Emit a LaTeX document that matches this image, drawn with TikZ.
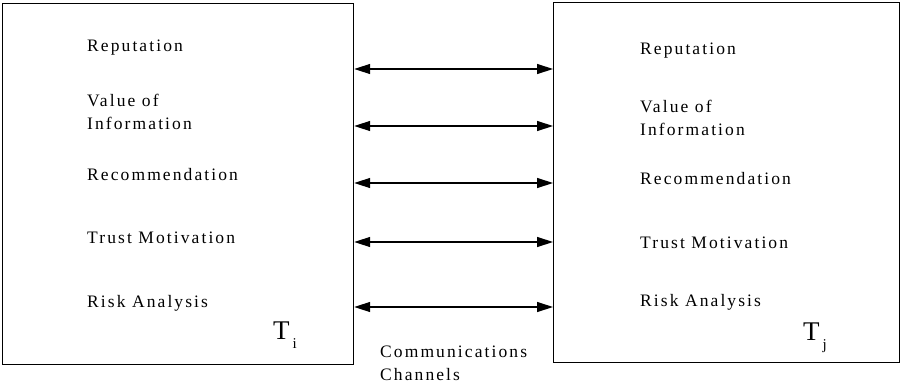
\documentclass[tikz,border=0pt]{standalone}
\usepackage{fontspec}
\setmainfont{Liberation Serif}[LetterSpace=12]
\usetikzlibrary{arrows.meta,positioning}

\begin{document}
\begin{tikzpicture}[x=1pt,y=-1pt]
            \tikzstyle{every node}+=[inner sep=0pt]
            \tikzstyle{agent}=[draw, line width=1.2pt, minimum width=351pt, minimum height=361pt, anchor=north west]
            \tikzstyle{factor}=[anchor=base west, font=\fontsize{17.5}{23}\selectfont, align=left]
            \tikzstyle{channel}=[line width=1.3pt, {Triangle[length=16pt,width=10pt]}-{Triangle[length=16pt,width=10pt]}]
            \useasboundingbox (0,0) rectangle (905,386);
            \node (Ti) [agent] at (2,3) {};
            \node (Tj) [agent, minimum width=346pt, minimum height=360pt] at (553,2) {};
            % left trust unit
            \node (repi) [factor] at (87,51) {Reputation};
            \node (valuei) [factor] at (87,129) {Value of\\Information};
            \node (reci) [factor] at (87,180) {Recommendation};
            \node (moti) [factor] at (87,243) {Trust Motivation};
            \node (riski) [factor] at (87,307) {Risk Analysis};
            \node (labeli) [anchor=base west, font=\fontsize{27}{27}\selectfont] at (273,339) {T\hspace{3pt}\raisebox{-9pt}{\fontsize{15}{15}\selectfont i}};
            % right trust unit
            \node (repj) [factor] at (640,54) {Reputation};
            \node (valuej) [factor] at (640,135) {Value of\\Information};
            \node (recj) [factor] at (640,184) {Recommendation};
            \node (motj) [factor] at (640,248) {Trust Motivation};
            \node (riskj) [factor] at (640,306) {Risk Analysis};
            \node (labelj) [anchor=base west, font=\fontsize{27}{27}\selectfont] at (803,340) {T\hspace{3pt}\raisebox{-9pt}{\fontsize{15}{15}\selectfont j}};
            % channels
            \foreach \y [count=\k] in {69,126,183,242,307} {
              \coordinate (outi\k) at (Ti.east |- 0,\y);
              \coordinate (inj\k) at (Tj.west |- 0,\y);
              \draw [channel] (outi\k) -- (inj\k);
            }
            \node (comm) [factor] at (380,380) {Communications\\Channels};
\end{tikzpicture}
\end{document}
